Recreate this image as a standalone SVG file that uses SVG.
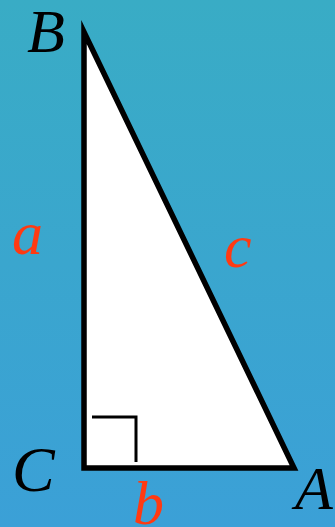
<svg xmlns="http://www.w3.org/2000/svg" width="335" height="527" viewBox="0 0 335 527">
  <defs>
    <linearGradient id="bg" x1="0" y1="0" x2="0" y2="1">
      <stop offset="0" stop-color="#39acc5"/>
      <stop offset="1" stop-color="#3ba0d7"/>
    </linearGradient>
    <style>
      .lbl { font-family: "Liberation Serif", "Times New Roman", serif; font-style: italic; font-size: 62px; }
      .vtx { fill: #000000; }
      .side { fill: #ff3a12; }
    </style>
  </defs>
  <rect x="0" y="0" width="335" height="527" fill="url(#bg)"/>
  <g id="triangle">
    <polygon points="84,32 84,468 294,468" fill="#ffffff" stroke="#000000" stroke-width="5.5" stroke-linejoin="miter" stroke-miterlimit="10"/>
  </g>
  <g id="right-angle">
    <polyline points="92,417 136,417 136,462" fill="none" stroke="#000000" stroke-width="3"/>
  </g>
  <g id="label-B"><text class="lbl vtx" x="27" y="52">B</text></g>
  <g id="label-C"><text class="lbl vtx" x="12" y="491" style="font-size:64px">C</text></g>
  <g id="label-A"><text class="lbl vtx" x="295" y="509">A</text></g>
  <g id="label-a"><text class="lbl side" x="12" y="254">a</text></g>
  <g id="label-c"><text class="lbl side" x="224" y="267">c</text></g>
  <g id="label-b"><text class="lbl side" x="133" y="524">b</text></g>
</svg>
